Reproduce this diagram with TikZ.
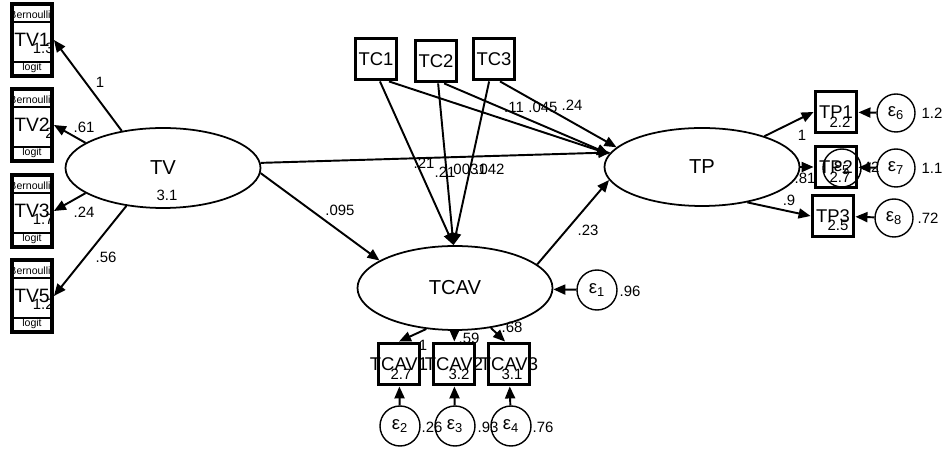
\documentclass[tikz,border=0pt]{standalone}
\usepackage{fontspec}
\setmainfont{Liberation Sans}
\usetikzlibrary{shapes.geometric,arrows.meta}

\begin{document}
\begin{tikzpicture}[x=0.2mm,y=-0.2mm,
  >={Triangle[length=2.4mm,width=2mm]},
  lat/.style={ellipse,draw,line width=1pt,minimum width=39mm,minimum height=16mm,inner sep=0pt,font=\fontsize{11.5}{13}\selectfont},
  obs/.style={draw,line width=2.2pt,minimum width=8.2mm,minimum height=8.2mm,inner sep=0pt,label={[font=\fontsize{10.5}{12}\selectfont]center:#1}},
  tvbox/.style={draw,line width=2.2pt,minimum width=8mm,minimum height=14.4mm,inner sep=0pt,font=\fontsize{11}{12}\selectfont},
  err/.style={circle,draw,line width=0.8pt,minimum size=#1,inner sep=0pt,font=\fontsize{10.5}{12}\selectfont},
  err/.default=8mm,
  lbl/.style={inner sep=0pt,font=\fontsize{8.5}{9}\selectfont},
  tiny/.style={inner sep=0pt,font=\fontsize{6}{7}\selectfont},
  pth/.style={->,line width=1.1pt}]
\useasboundingbox (0,0) rectangle (942,450);

% binary indicators of TV
\foreach \n/\y/\v in {1/40/1.3,2/125/2,3/211/1.7,5/296/1.2}{
  \node [tvbox] (tv\n) at (32,\y) {TV\n};
  \draw [line width=0.9pt] (12,\y-18) -- (52,\y-18);
  \draw [line width=0.9pt] (12,\y+22) -- (52,\y+22);
  \node [tiny] at (30,\y-25) {Bernoulli};
  \node [tiny] at (32,\y+28) {logit};
  \node [lbl,anchor=east] at (54,\y+8) {\v};
}

% latent variables
\node [lat] (tv) at (163,168) {TV};
\node [lat,minimum height=16.8mm] (tcav) at (455,288) {TCAV};
\node [lat,minimum height=15.6mm] (tp) at (702,167) {TP};
\node [lbl] at (167,195) {3.1};

% observed boxes
\node [obs=TC1] (tc1) at (376,59) {};
\node [obs=TC2] (tc2) at (436,61) {};
\node [obs=TC3] (tc3) at (494,59) {};
\node [obs=TP1] (tp1) at (836,112) {};
\node [obs=TP2] (tp2) at (836,167) {};
\node [obs=TP3] (tp3) at (833,216) {};
\node [obs=TCAV1] (tcav1) at (399,364) {};
\node [obs=TCAV2] (tcav2) at (454,364) {};
\node [obs=TCAV3] (tcav3) at (509,364) {};
\node [lbl] at (840,122) {2.2};
\node [lbl] at (840,177) {2.7};
\node [lbl] at (838,225) {2.5};
\node [lbl] at (401,374) {2.7};
\node [lbl] at (459,374) {3.2};
\node [lbl] at (512,374) {3.1};

% errors
\node [err] (e1) at (597,290) {ε\textsubscript{1}};
\node [err] (e2) at (400,426) {ε\textsubscript{2}};
\node [err] (e3) at (455,426) {ε\textsubscript{3}};
\node [err] (e4) at (511,426) {ε\textsubscript{4}};
\node [err=7.6mm] (e5) at (842,168) {ε\textsubscript{5}};
\node [err=7.6mm] (e6) at (896,113) {ε\textsubscript{6}};
\node [err=7.6mm] (e7) at (896,168) {ε\textsubscript{7}};
\node [err=7.6mm] (e8) at (894,218) {ε\textsubscript{8}};
\node [lbl] at (630,291) {.96};
\node [lbl] at (432,427) {.26};
\node [lbl] at (488,427) {.93};
\node [lbl] at (543,427) {.76};
\node [lbl] at (869,167) {.42};
\node [lbl] at (932,113) {1.2};
\node [lbl] at (932,168) {1.1};
\node [lbl] at (928,218) {.72};

% paths
\draw [pth] (tv.138) -- (tv1.east);
\draw [pth] (tv.162) -- (tv2.east);
\draw [pth] (tv.198) -- (tv3.east);
\draw [pth] (tv.226) -- (tv5.east);
\draw [pth] (tv.3) -- (tp.171);
\draw [pth] (tv.-3) -- (tcav.160);
\draw [pth] (tc1.-60) -- (tp.172);
\draw [pth] (tc2.-70) -- (tp.172);
\draw [pth] (tc3.-75) -- (tp.167);
\draw [pth] (tc1.-80) -- (tcav.92);
\draw [pth] (tc2) -- (tcav.92);
\draw [pth] (tc3) -- (tcav.92);
\draw [pth] (tcav.16) -- (tp.188);
\draw [pth] (tcav.235) -- (tcav1.north);
\draw [pth] (tcav) -- (tcav2);
\draw [pth] (tcav.-48) -- (tcav3.100);
\draw [pth] (tp) -- (tp1.west);
\draw [pth] (tp) -- (tp2);
\draw [pth] (tp.-38) -- (tp3.west);
\draw [pth] (e1) -- (tcav);
\draw [pth] (e2) -- (tcav1);
\draw [pth] (e3) -- (tcav2);
\draw [pth] (e4) -- (tcav3);
\draw [pth] (e6) -- (tp1);
\draw [pth] (e7) -- (tp2);
\draw [pth] (e8) -- (tp3);

% coefficients
\node [lbl] at (100,82) {1};
\node [lbl] at (84,127) {.61};
\node [lbl] at (84,212) {.24};
\node [lbl] at (106,257) {.56};
\node [lbl] at (340,210) {.095};
\node [lbl] at (588,230) {.23};
\node [lbl] at (424,163) {.21};
\node [lbl] at (445,172) {.21};
\node [lbl] at (468,169) {.0031};
\node [lbl] at (490,169) {.042};
\node [lbl] at (514,107) {.11};
\node [lbl] at (543,107) {.045};
\node [lbl] at (572,105) {.24};
\node [lbl] at (802,135) {1};
\node [lbl] at (805,178) {.81};
\node [lbl] at (789,200) {.9};
\node [lbl] at (423,345) {1};
\node [lbl] at (469,338) {.59};
\node [lbl] at (512,327) {.68};

\end{tikzpicture}
\end{document}
